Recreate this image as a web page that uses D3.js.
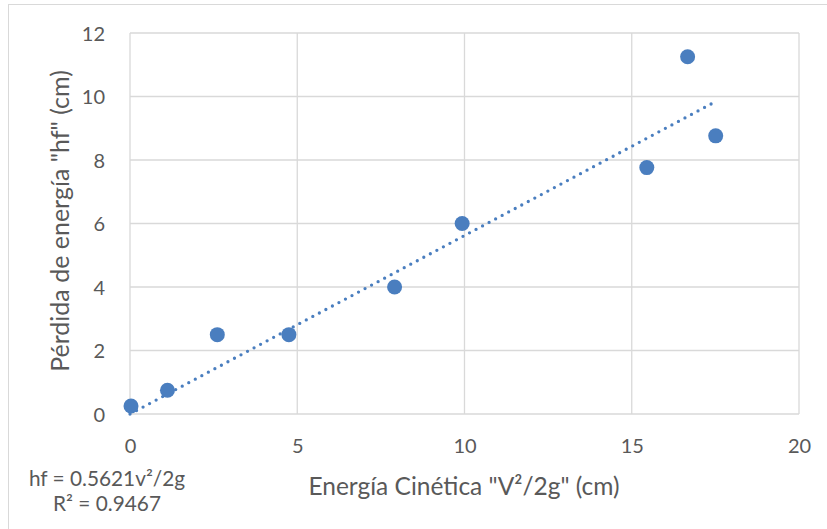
<!DOCTYPE html>
<html>
<head>
<meta charset="utf-8">
<script src="https://cdn.jsdelivr.net/npm/d3@7"></script>
<style>
  html, body { margin: 0; padding: 0; background: #fff; }
  svg { display: block; }
  text { font-family: Lato, "Open Sans", sans-serif; fill: #595959; }
</style>
</head>
<body>
<script>
// Measured kinetic energy (V²/2g, cm) vs. head loss (hf, cm)
const energiaCinetica = [0.03, 1.12, 2.61, 4.75, 7.91, 9.93, 15.45, 16.67, 17.51];
const perdidaEnergia  = [0.25, 0.75, 2.5, 2.5, 4.0, 6.0, 7.76, 11.25, 8.76];

// Linear trend forced through the origin
const pendiente = 0.5621;
const r2 = 0.9467;

const xTicks = [0, 5, 10, 15, 20];
const yTicks = [0, 2, 4, 6, 8, 10, 12];

const W = 827, H = 529;
const plot = { left: 130, right: 799, top: 33, bottom: 414 };

const svg = d3.select("body").append("svg")
  .attr("width", W).attr("height", H);

// chart frame
svg.append("rect")
  .attr("x", 8.5).attr("y", 4.5)
  .attr("width", W + 10).attr("height", H + 10)
  .attr("fill", "#fff").attr("stroke", "#d9d9d9").attr("stroke-width", 1);

const x = d3.scaleLinear().domain([0, 20]).range([plot.left, plot.right]);
const y = d3.scaleLinear().domain([0, 12]).range([plot.bottom, plot.top]);

// gridlines
const grid = svg.append("g").attr("stroke", "#d9d9d9").attr("stroke-width", 1.3);
grid.selectAll("line.v").data(xTicks).join("line")
  .attr("x1", d => x(d)).attr("x2", d => x(d))
  .attr("y1", plot.top).attr("y2", plot.bottom);
grid.selectAll("line.h").data(yTicks).join("line")
  .attr("x1", plot.left).attr("x2", plot.right)
  .attr("y1", d => y(d)).attr("y2", d => y(d));

// axes (labels only)
const xAxis = d3.axisBottom(x).tickValues(xTicks).tickSize(0).tickPadding(0);
const gx = svg.append("g").attr("transform", `translate(0,${plot.bottom + 32})`).call(xAxis);
gx.select(".domain").remove();
gx.selectAll("text").attr("font-size", 20).attr("dy", "0.35em")
  .style("font-family", "Lato, 'Open Sans', sans-serif").attr("fill", "#595959");

const yAxis = d3.axisLeft(y).tickValues(yTicks).tickSize(0).tickPadding(0);
const gy = svg.append("g").attr("transform", `translate(${plot.left - 25},0)`).call(yAxis);
gy.select(".domain").remove();
gy.selectAll("text").attr("font-size", 20).attr("dy", "0.35em")
  .style("font-family", "Lato, 'Open Sans', sans-serif").attr("fill", "#595959");

// trendline
const xMax = d3.max(energiaCinetica);
svg.append("line")
  .attr("x1", x(0)).attr("y1", y(0))
  .attr("x2", x(xMax)).attr("y2", y(pendiente * xMax))
  .attr("stroke", "#4a7ebf").attr("stroke-width", 3.3)
  .attr("stroke-linecap", "round").attr("stroke-dasharray", "0 7.4");

// data points
svg.append("g").selectAll("circle")
  .data(energiaCinetica.map((v, i) => [v, perdidaEnergia[i]]))
  .join("circle")
  .attr("cx", d => x(d[0])).attr("cy", d => y(d[1]))
  .attr("r", 7.5).attr("fill", "#4a7ebf");

// axis titles
svg.append("text")
  .attr("x", 464).attr("y", 495)
  .attr("text-anchor", "middle").attr("font-size", 24.5)
  .text("Energía Cinética \"V²/2g\" (cm)");

svg.append("text")
  .attr("transform", `translate(69,221) rotate(-90)`)
  .attr("text-anchor", "middle").attr("font-size", 25)
  .text("Pérdida de energía \"hf\" (cm)");

// trendline equation
const eq = svg.append("text").attr("text-anchor", "middle").attr("font-size", 20.8);
eq.append("tspan").attr("x", 107).attr("y", 486).text(`hf = ${pendiente}v²/2g`);
eq.append("tspan").attr("x", 107).attr("y", 511).text(`R² = ${r2}`);
</script>
</body>
</html>
